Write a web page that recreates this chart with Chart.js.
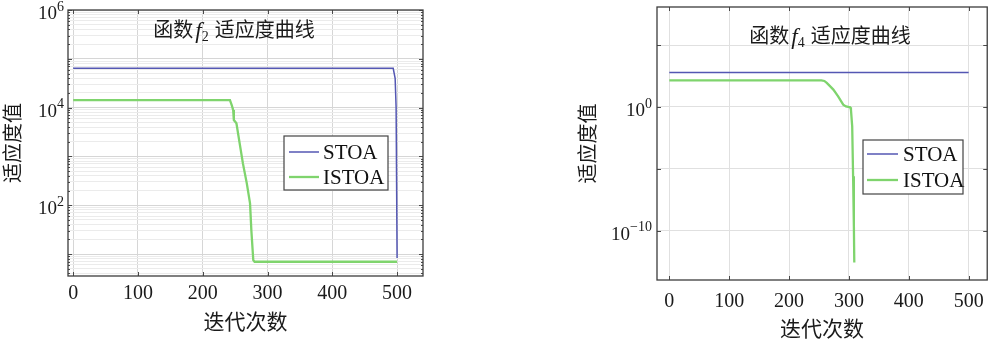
<!DOCTYPE html>
<html lang="zh">
<head>
<meta charset="utf-8">
<title>适应度曲线</title>
<script src="https://cdn.jsdelivr.net/npm/chart.js@4.4.1/dist/chart.umd.min.js"></script>
<style>
    html, body { margin: 0; padding: 0; background: #fff; }
    body { width: 994px; height: 345px; position: relative; overflow: hidden; }
    #grafico-f2 { position: absolute; left: 0; top: 0; }
    #grafico-f4 { position: absolute; left: 560px; top: 0; }
</style>
</head>
<body>
<canvas id="grafico-f2" width="440" height="345"></canvas>
<canvas id="grafico-f4" width="434" height="345"></canvas>
<script>
// Dados
const ticksX = [0, 100, 200, 300, 400, 500];
const rotulosX = ["0", "100", "200", "300", "400", "500"];
const nomesSeries = ["STOA", "ISTOA"];

// função f2
const f2StoaIter = [0, 494, 497, 498.5, 500];
const f2StoaValor = [63800, 63800, 40000, 10000, 8.3];
const f2IstoaIter = [0, 242, 245, 247, 248, 252, 257, 262, 268, 273, 275, 278, 280, 500];
const f2IstoaValor = [14300, 14300, 11000, 8900, 5570, 4770, 1850, 720, 281, 109, 31, 7.5, 6.95, 6.95];
const f2MaioresY = [100, 10000, 1000000];
const f2ExpoentesY = ["2", "4", "6"];

// função f4
const f4StoaIter = [0, 500];
const f4StoaValor = [617, 617];
const f4IstoaIter = [0, 254, 259, 263, 268, 274, 282, 290.5, 295, 299, 302, 303.4, 305.5, 307, 308.3, 309];
const f4IstoaValor = [140, 140, 125, 87, 50, 25, 7.2, 1.53, 1.1, 1.0, 0.95, 0.6, 0.027, 2.5e-6, 2.3e-10, 2.6e-13];
const f4TicksY = [1e-10, 1e-5, 1, 1e5];
const f4MaioresY = [1e-10, 1];
const f4ExpoentesY = ["−10", "0"];

const FONTE = '"Liberation Serif", "Noto Sans CJK SC", serif';
const COR_STOA = "#5457b3";
const COR_ISTOA = "#7fd46d";

// ticks menores do eixo log (1..9 x 10^k)
function ticksLog(kMin, kMax) {
    const lista = [];
    for (let k = kMin; k < kMax; k++) {
        for (let m = 1; m <= 9; m++) lista.push(m * Math.pow(10, k));
    }
    lista.push(Math.pow(10, kMax));
    return lista;
}

function pontos(iter, valores) {
    return iter.map((x, i) => ({ x: x, y: valores[i] }));
}

function ehDecada(v) {
    return Math.abs(Math.log10(v) - Math.round(Math.log10(v))) < 1e-9;
}

// moldura, marcas internas, rótulos 10^n, título e legenda
const moldura = {
    id: "moldura",
    afterDraw(chart, args, opts) {
        const ctx = chart.ctx;
        const a = chart.chartArea;
        const xs = chart.scales.x, ys = chart.scales.y;
        ctx.save();

        ctx.strokeStyle = "#4a4a4a";
        ctx.lineWidth = 1;
        ctx.beginPath();
        xs.ticks.forEach(t => {
            const px = Math.round(xs.getPixelForValue(t.value)) + 0.5;
            ctx.moveTo(px, a.bottom); ctx.lineTo(px, a.bottom - 4);
            ctx.moveTo(px, a.top); ctx.lineTo(px, a.top + 4);
        });
        ys.ticks.forEach(t => {
            const py = Math.round(ys.getPixelForValue(t.value)) + 0.5;
            const len = ehDecada(t.value) ? 4 : 2;
            ctx.moveTo(a.left, py); ctx.lineTo(a.left + len, py);
            ctx.moveTo(a.right, py); ctx.lineTo(a.right - len, py);
        });
        ctx.stroke();

        ctx.strokeStyle = "#3c3c3c";
        ctx.lineWidth = 1.3;
        ctx.strokeRect(a.left, a.top, a.right - a.left, a.bottom - a.top);

        // rótulos do eixo y: "10" com expoente
        const r = opts.rotulosY;
        ctx.fillStyle = "#1a1a1a";
        ctx.textBaseline = "middle";
        ctx.textAlign = "right";
        r.valores.forEach((v, i) => {
            const py = ys.getPixelForValue(v);
            const xd = a.left - r.pad;
            ctx.font = "14px " + FONTE;
            const we = ctx.measureText(r.expoentes[i]).width;
            ctx.fillText(r.expoentes[i], xd, py - 3);
            ctx.font = "19px " + FONTE;
            ctx.fillText("10", xd - we, py + 4);
        });

        // título com f itálico e índice
        const t = opts.titulo;
        ctx.textAlign = "left";
        const fCjk = "20px " + FONTE;
        const fIt = "italic 23px " + FONTE;
        const fSub = "14px " + FONTE;
        ctx.font = fCjk; const w1 = ctx.measureText("函数").width;
        ctx.font = fIt; const w2 = ctx.measureText("f").width;
        ctx.font = fSub; const w3 = ctx.measureText(t.indice).width;
        ctx.font = fCjk; const w4 = ctx.measureText("适应度曲线").width;
        const total = w1 + 2 + w2 + w3 + 6 + w4;
        let x = t.cx - total / 2;
        ctx.font = fCjk; ctx.fillText("函数", x, t.cy); x += w1 + 2;
        ctx.font = fIt; ctx.fillText("f", x, t.cy); x += w2;
        ctx.font = fSub; ctx.fillText(t.indice, x, t.cy + 5); x += w3 + 6;
        ctx.font = fCjk; ctx.fillText("适应度曲线", x, t.cy);

        // legenda
        const l = opts.legenda;
        ctx.fillStyle = "#fff";
        ctx.fillRect(l.x, l.y, l.w, l.h);
        ctx.strokeStyle = "#444";
        ctx.lineWidth = 1.2;
        ctx.strokeRect(l.x, l.y, l.w, l.h);
        chart.data.datasets.forEach((ds, i) => {
            const yy = l.linhas[i];
            ctx.strokeStyle = ds.borderColor;
            ctx.lineWidth = ds.borderWidth;
            ctx.beginPath();
            ctx.moveTo(l.amostra[0], yy); ctx.lineTo(l.amostra[1], yy);
            ctx.stroke();
            ctx.fillStyle = "#111";
            ctx.font = "21px " + FONTE;
            ctx.fillText(ds.label, l.texto, yy + 1);
        });
        ctx.restore();
    }
};

function criarGrafico(id, cfg) {
    return new Chart(document.getElementById(id), {
        type: "line",
        data: {
            datasets: [
                { label: nomesSeries[0], data: cfg.stoa, borderColor: COR_STOA, borderWidth: 1.5 },
                { label: nomesSeries[1], data: cfg.istoa, borderColor: COR_ISTOA, borderWidth: 2.3 }
            ]
        },
        options: {
            responsive: false,
            animation: false,
            devicePixelRatio: 1,
            layout: { padding: cfg.padding },
            elements: { point: { radius: 0 }, line: { tension: 0 } },
            plugins: {
                legend: { display: false },
                tooltip: { enabled: false },
                moldura: {
                    titulo: cfg.titulo,
                    legenda: cfg.legenda,
                    rotulosY: { valores: cfg.maioresY, expoentes: cfg.expoentesY, pad: cfg.padTickY }
                }
            },
            scales: {
                x: {
                    type: "linear",
                    min: cfg.xMin, max: cfg.xMax,
                    afterBuildTicks: s => { s.ticks = ticksX.map(v => ({ value: v })); },
                    afterFit: s => { s.height = cfg.alturaX; },
                    ticks: {
                        autoSkip: false, maxRotation: 0,
                        padding: cfg.padTickX,
                        color: "#1a1a1a",
                        font: { family: FONTE, size: 20 },
                        callback: v => rotulosX[ticksX.indexOf(v)]
                    },
                    grid: { color: cfg.corGrade, drawTicks: false },
                    border: { display: false },
                    title: {
                        display: true, text: "迭代次数", color: "#1a1a1a",
                        font: { family: FONTE, size: 21 },
                        padding: { top: 0, bottom: cfg.padTituloX }
                    }
                },
                y: {
                    type: "logarithmic",
                    min: cfg.yMin, max: cfg.yMax,
                    afterBuildTicks: s => {
                        s.ticks = cfg.ticksY.filter(v => v >= cfg.yMin && v <= cfg.yMax).map(v => ({ value: v }));
                    },
                    afterFit: s => { s.width = cfg.larguraY; },
                    ticks: { display: false },
                    grid: {
                        drawTicks: false,
                        color: c => (c.tick && ehDecada(c.tick.value)) ? cfg.corGrade : cfg.corGradeMenor
                    },
                    border: { display: false },
                    title: {
                        display: true, text: "适应度值", color: "#1a1a1a",
                        font: { family: FONTE, size: 20 },
                        padding: { top: cfg.padTituloY, bottom: 0 }
                    }
                }
            }
        },
        plugins: [moldura]
    });
}

document.addEventListener("DOMContentLoaded", () => {
    criarGrafico("grafico-f2", {
        stoa: pontos(f2StoaIter, f2StoaValor),
        istoa: pontos(f2IstoaIter, f2IstoaValor),
        xMin: -8, xMax: 540,
        yMin: 3.55, yMax: 1000000,
        ticksY: ticksLog(0, 6),
        maioresY: f2MaioresY, expoentesY: f2ExpoentesY,
        padding: { left: 0, right: 17, top: 10, bottom: 0 },
        larguraY: 68, alturaX: 69,
        padTickX: 6, padTickY: 4, padTituloX: 9, padTituloY: 3,
        corGrade: "#d6d6d6", corGradeMenor: "#ebebeb",
        titulo: { cx: 234, cy: 32, indice: "2" },
        legenda: { x: 284, y: 136, w: 104, h: 54, amostra: [289, 319], texto: 323, linhas: [152, 177] }
    });

    criarGrafico("grafico-f4", {
        stoa: pontos(f4StoaIter, f4StoaValor),
        istoa: pontos(f4IstoaIter, f4IstoaValor),
        xMin: -20.5, xMax: 531,
        yMin: 1e-14, yMax: 1.2e8,
        ticksY: f4TicksY,
        maioresY: f4MaioresY, expoentesY: f4ExpoentesY,
        padding: { left: 0, right: 6, top: 7, bottom: 0 },
        larguraY: 97, alturaX: 65,
        padTickX: 10, padTickY: 5, padTituloX: 2, padTituloY: 18,
        corGrade: "#e0e0e0", corGradeMenor: "#e0e0e0",
        titulo: { cx: 270, cy: 38, indice: "4" },
        legenda: { x: 303, y: 140, w: 100, h: 54, amostra: [307, 338], texto: 343, linhas: [154, 180] }
    });
});
</script>
</body>
</html>
